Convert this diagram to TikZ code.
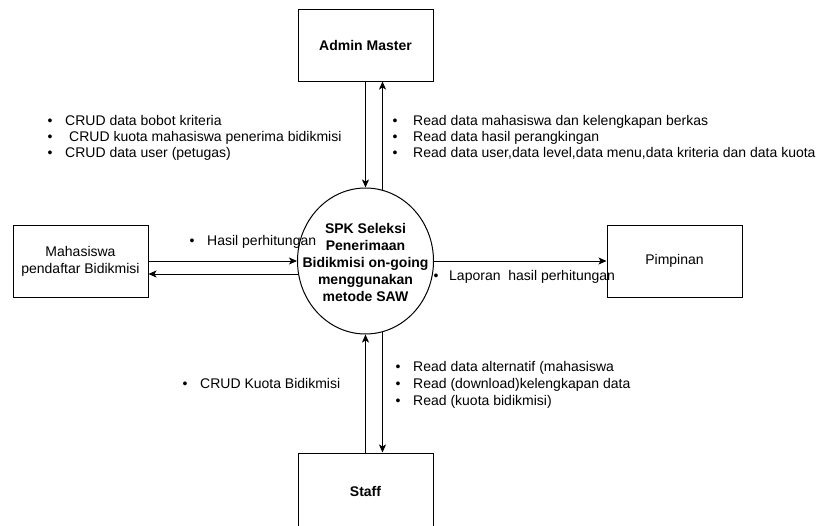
\documentclass[tikz,border=0pt]{standalone}
\usepackage{fontspec}
\setmainfont{Liberation Sans}
\usetikzlibrary{arrows.meta,shapes.geometric}
\tikzset{
  txt/.style={font=\fontsize{14}{17}\selectfont},
  ent/.style={draw=black, line width=1pt, minimum width=135pt, minimum height=72pt,
    inner sep=0pt, align=center, txt},
  entb/.style={ent, font=\fontsize{14}{17}\selectfont\bfseries},
  proc/.style={draw=black, ellipse, line width=1pt, minimum width=136pt,
    minimum height=146pt, inner sep=0pt},
  arr/.style={line width=1pt, -{Stealth[length=8pt,width=7pt,inset=2pt]}},
  lbl/.style={anchor=base west, inner sep=0pt, txt},
  bul/.style={anchor=base, inner sep=0pt, txt},
}
\begin{document}
\begin{tikzpicture}[x=1pt,y=-1pt]
\useasboundingbox (0,0) rectangle (824,525);
\clip (0,0) rectangle (824,525);
\fill[white] (0,0) rectangle (824,525);

% entities
\node[entb] (admin) at (365.5,45) {Admin Master};
\node[entb, minimum height=76pt] (staff) at (365.5,491) {Staff};
\node[ent] (mhs) at (80.5,261) {Mahasiswa\\pendaftar Bidikmisi};
\node[ent] (pim) at (674.5,261) {Pimpinan};

% process
\node[proc] (c) at (365.5,261) {};
\node[align=center, inner sep=0pt, font=\fontsize{14}{17}\selectfont\bfseries] (ct) at (365.5,262)
  {SPK Seleksi\\Penerimaan\\Bidikmisi on-going\\menggunakan\\metode SAW};

% border points of the process
\coordinate (cne) at (382.5,190.3);
\coordinate (cse) at (382.5,331.7);
\coordinate (cw2) at (298.6,274);

% flows
\draw[arr] (admin.south) -- (c.north);
\draw[arr] (cne) -- (cne |- admin.south);
\draw[arr] (mhs.east) -- (c.west);
\draw[arr] (cw2) -- (cw2 -| mhs.east);
\draw[arr] (c.east) -- (pim.west);
\draw[arr] (staff.north) -- (c.south);
\draw[arr] (cse) -- (cse |- staff.north);

% labels: admin -> process
\node[bul] (a1b) at (50,125) {•};
\node[lbl] (a1) at (65,125) {CRUD data bobot kriteria};
\node[bul] (a2b) at (50,141) {•};
\node[lbl] (a2) at (69,141) {CRUD kuota mahasiswa penerima bidikmisi};
\node[bul] (a3b) at (50,157) {•};
\node[lbl] (a3) at (65,157) {CRUD data user (petugas)};

% labels: process -> admin
\node[bul] (r1b) at (395,125) {•};
\node[lbl] (r1) at (413,125) {Read data mahasiswa dan kelengkapan berkas};
\node[bul] (r2b) at (395,141) {•};
\node[lbl] (r2) at (413,141) {Read data hasil perangkingan};
\node[bul] (r3b) at (395,157) {•};
\node[lbl] (r3) at (413,157) {Read data user,data level,data menu,data kriteria dan data kuota};

% labels: mahasiswa / pimpinan
\node[bul] (hb) at (192,245) {•};
\node[lbl] (h) at (207,245) {Hasil perhitungan};
\node[bul] (lb) at (436,280) {•};
\node[lbl] (l) at (449,280) {Laporan\ \ hasil perhitungan};

% labels: staff
\node[bul] (s1b) at (185,388) {•};
\node[lbl] (s1) at (200,388) {CRUD Kuota Bidikmisi};
\node[bul] (t1b) at (398,371) {•};
\node[lbl] (t1) at (413,371) {Read data alternatif (mahasiswa};
\node[bul] (t2b) at (398,388) {•};
\node[lbl] (t2) at (413,388) {Read (download)kelengkapan data};
\node[bul] (t3b) at (398,405) {•};
\node[lbl] (t3) at (413,405) {Read (kuota bidikmisi)};
\end{tikzpicture}
\end{document}
